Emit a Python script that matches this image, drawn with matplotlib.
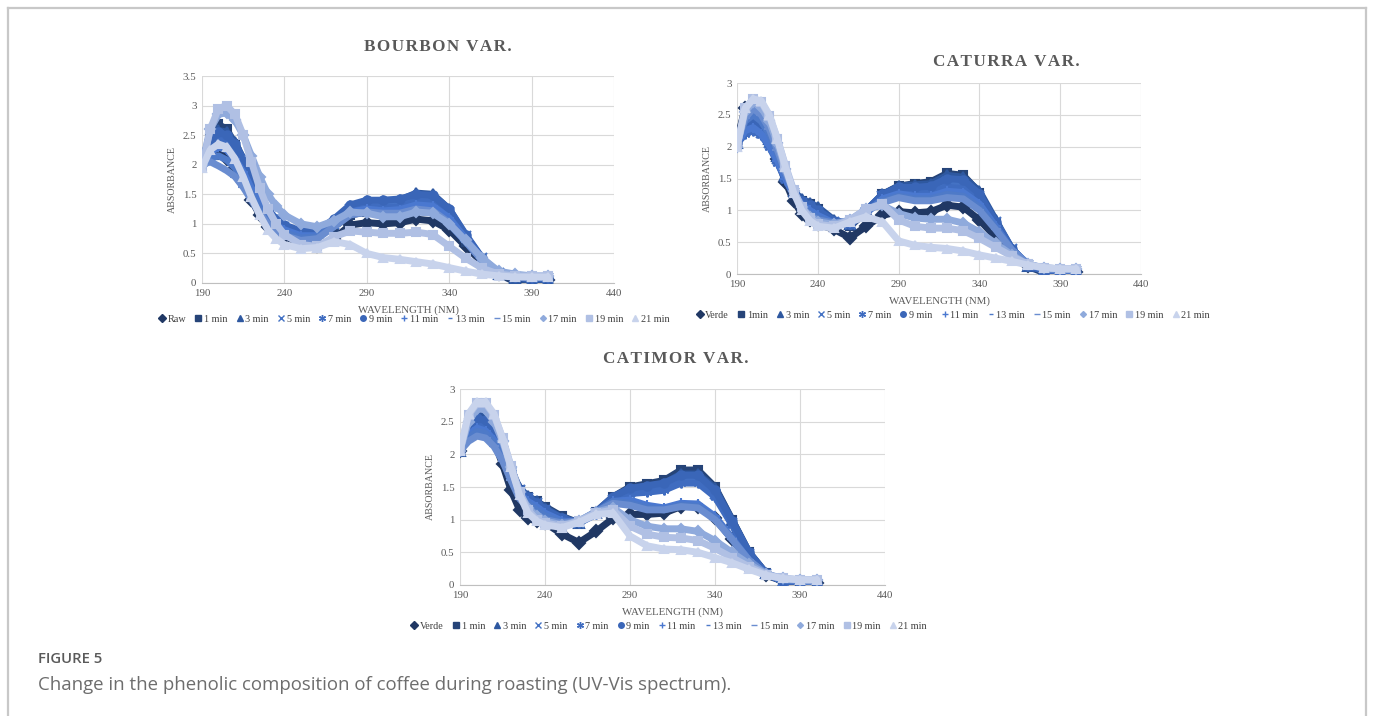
import numpy as np
import matplotlib
matplotlib.use("Agg")
import matplotlib.pyplot as plt
from matplotlib.lines import Line2D

W, H = 1373, 716

# wavelengths (nm)
wl = [190, 195, 200, 205, 210, 215, 220, 225, 230, 235, 240, 250, 260, 270,
      280, 290, 300, 310, 320, 330, 340, 350, 360, 370, 380, 390, 400]

times = ["1 min", "3 min", "5 min", "7 min", "9 min", "11 min", "13 min",
         "15 min", "17 min", "19 min", "21 min"]
labels_bourbon = ["Raw"] + times
labels_caturra = ["Verde", "1min"] + times[1:]
labels_catimor = ["Verde"] + times

bourbon = [
    [2.05, 2.15, 2.2, 2.1, 1.95, 1.7, 1.4, 1.15, 0.95, 0.85, 0.78, 0.68, 0.62, 0.75, 0.98, 1.02, 1.0, 1.02, 1.08, 1.05, 0.9, 0.62, 0.35, 0.16, 0.08, 0.05, 0.05],
    [2.1, 2.45, 2.68, 2.6, 2.35, 2.0, 1.65, 1.35, 1.12, 1.0, 0.92, 0.82, 0.8, 0.95, 1.15, 1.2, 1.18, 1.2, 1.3, 1.28, 1.05, 0.7, 0.38, 0.15, 0.02, 0.0, 0.0],
    [2.1, 2.4, 2.58, 2.55, 2.38, 2.1, 1.78, 1.45, 1.2, 1.05, 0.95, 0.85, 0.85, 1.05, 1.3, 1.38, 1.38, 1.4, 1.52, 1.5, 1.25, 0.8, 0.4, 0.15, 0.08, 0.05, 0.05],
    [2.05, 2.35, 2.5, 2.45, 2.3, 2.05, 1.75, 1.45, 1.2, 1.05, 0.95, 0.85, 0.83, 1.0, 1.25, 1.32, 1.3, 1.32, 1.42, 1.4, 1.2, 0.8, 0.42, 0.17, 0.1, 0.08, 0.08],
    [2.05, 2.3, 2.45, 2.4, 2.25, 2.0, 1.7, 1.42, 1.18, 1.02, 0.92, 0.82, 0.82, 1.0, 1.22, 1.28, 1.27, 1.28, 1.38, 1.36, 1.15, 0.78, 0.4, 0.17, 0.1, 0.08, 0.08],
    [2.1, 2.4, 2.55, 2.5, 2.35, 2.1, 1.8, 1.5, 1.25, 1.08, 0.98, 0.88, 0.88, 1.08, 1.32, 1.4, 1.4, 1.42, 1.5, 1.48, 1.25, 0.82, 0.42, 0.16, 0.1, 0.08, 0.08],
    [2.05, 2.2, 2.3, 2.25, 2.1, 1.88, 1.6, 1.35, 1.12, 0.98, 0.9, 0.8, 0.8, 0.98, 1.2, 1.25, 1.22, 1.24, 1.32, 1.3, 1.1, 0.75, 0.4, 0.17, 0.12, 0.1, 0.1],
    [2.0, 2.1, 2.15, 2.08, 1.95, 1.75, 1.5, 1.25, 1.05, 0.92, 0.85, 0.76, 0.78, 0.96, 1.16, 1.2, 1.16, 1.16, 1.22, 1.2, 1.0, 0.7, 0.38, 0.17, 0.12, 0.1, 0.1],
    [2.0, 2.05, 1.98, 1.9, 1.8, 1.62, 1.4, 1.18, 1.0, 0.88, 0.8, 0.72, 0.75, 0.95, 1.15, 1.2, 1.18, 1.18, 1.25, 1.22, 1.02, 0.7, 0.38, 0.18, 0.12, 0.1, 0.1],
    [2.0, 2.6, 2.85, 2.88, 2.75, 2.5, 2.15, 1.8, 1.5, 1.3, 1.15, 1.0, 0.95, 1.05, 1.2, 1.18, 1.12, 1.12, 1.2, 1.18, 1.0, 0.72, 0.42, 0.2, 0.15, 0.12, 0.12],
    [1.95, 2.6, 2.95, 3.0, 2.85, 2.5, 2.05, 1.6, 1.25, 1.0, 0.82, 0.65, 0.62, 0.78, 0.88, 0.86, 0.84, 0.84, 0.86, 0.82, 0.62, 0.42, 0.25, 0.15, 0.12, 0.12, 0.12],
    [1.95, 2.25, 2.35, 2.3, 2.1, 1.8, 1.45, 1.15, 0.9, 0.75, 0.65, 0.58, 0.6, 0.7, 0.65, 0.5, 0.43, 0.4, 0.36, 0.32, 0.26, 0.2, 0.15, 0.12, 0.1, 0.1, 0.1],
]

caturra = [
    [2.1, 2.6, 2.65, 2.45, 2.15, 1.8, 1.45, 1.15, 0.95, 0.85, 0.78, 0.7, 0.57, 0.75, 0.92, 0.98, 0.96, 0.98, 1.08, 1.05, 0.85, 0.58, 0.3, 0.12, 0.05, 0.03, 0.03],
    [2.05, 2.3, 2.35, 2.25, 2.05, 1.8, 1.5, 1.28, 1.15, 1.1, 1.02, 0.82, 0.75, 0.98, 1.25, 1.38, 1.42, 1.45, 1.58, 1.55, 1.28, 0.8, 0.38, 0.12, 0.02, 0.0, 0.0],
    [2.05, 2.35, 2.45, 2.35, 2.12, 1.85, 1.55, 1.3, 1.18, 1.12, 1.05, 0.85, 0.78, 1.0, 1.25, 1.38, 1.4, 1.42, 1.55, 1.52, 1.3, 0.85, 0.4, 0.13, 0.05, 0.03, 0.03],
    [2.05, 2.25, 2.3, 2.22, 2.05, 1.8, 1.52, 1.28, 1.12, 1.05, 0.98, 0.82, 0.78, 0.98, 1.22, 1.32, 1.32, 1.34, 1.45, 1.42, 1.22, 0.82, 0.4, 0.14, 0.06, 0.04, 0.04],
    [2.05, 2.2, 2.25, 2.18, 2.0, 1.75, 1.48, 1.25, 1.1, 1.02, 0.95, 0.8, 0.78, 0.96, 1.18, 1.28, 1.26, 1.28, 1.36, 1.34, 1.15, 0.78, 0.4, 0.14, 0.07, 0.05, 0.05],
    [2.05, 2.35, 2.4, 2.3, 2.1, 1.82, 1.52, 1.28, 1.14, 1.08, 1.0, 0.84, 0.78, 1.0, 1.25, 1.36, 1.36, 1.38, 1.5, 1.48, 1.26, 0.82, 0.4, 0.13, 0.05, 0.03, 0.03],
    [2.05, 2.25, 2.3, 2.2, 2.02, 1.78, 1.5, 1.25, 1.1, 1.0, 0.92, 0.8, 0.8, 0.96, 1.18, 1.26, 1.22, 1.22, 1.3, 1.28, 1.1, 0.75, 0.38, 0.15, 0.08, 0.06, 0.06],
    [2.05, 2.4, 2.5, 2.4, 2.2, 1.9, 1.58, 1.28, 1.08, 0.95, 0.88, 0.8, 0.82, 0.98, 1.15, 1.22, 1.18, 1.18, 1.25, 1.22, 1.05, 0.72, 0.38, 0.16, 0.08, 0.06, 0.06],
    [2.05, 2.45, 2.6, 2.5, 2.28, 1.95, 1.6, 1.28, 1.05, 0.92, 0.85, 0.8, 0.84, 1.0, 1.12, 1.2, 1.15, 1.15, 1.2, 1.18, 1.0, 0.7, 0.38, 0.16, 0.08, 0.07, 0.07],
    [2.0, 2.55, 2.7, 2.62, 2.4, 2.05, 1.65, 1.3, 1.05, 0.9, 0.82, 0.78, 0.85, 1.02, 1.08, 0.95, 0.88, 0.86, 0.86, 0.8, 0.66, 0.48, 0.3, 0.15, 0.1, 0.08, 0.08],
    [2.0, 2.6, 2.75, 2.7, 2.48, 2.12, 1.7, 1.32, 1.05, 0.88, 0.78, 0.75, 0.85, 1.02, 1.1, 0.85, 0.75, 0.72, 0.72, 0.68, 0.56, 0.42, 0.28, 0.15, 0.1, 0.08, 0.08],
    [2.0, 2.6, 2.75, 2.72, 2.5, 2.12, 1.68, 1.28, 1.0, 0.84, 0.75, 0.72, 0.82, 0.9, 0.82, 0.52, 0.45, 0.42, 0.4, 0.36, 0.3, 0.25, 0.2, 0.14, 0.1, 0.08, 0.08],
]

catimor = [
    [2.05, 2.35, 2.45, 2.4, 2.2, 1.85, 1.45, 1.15, 1.02, 0.98, 0.95, 0.78, 0.65, 0.82, 1.02, 1.08, 1.08, 1.1, 1.2, 1.2, 1.02, 0.7, 0.36, 0.15, 0.06, 0.03, 0.03],
    [2.05, 2.45, 2.65, 2.6, 2.4, 2.05, 1.7, 1.45, 1.35, 1.28, 1.2, 1.05, 0.95, 1.12, 1.35, 1.5, 1.55, 1.6, 1.76, 1.76, 1.5, 1.0, 0.5, 0.18, 0.05, 0.02, 0.0],
    [2.05, 2.4, 2.6, 2.58, 2.42, 2.12, 1.78, 1.48, 1.36, 1.28, 1.18, 1.03, 0.95, 1.1, 1.32, 1.45, 1.5, 1.55, 1.7, 1.7, 1.48, 1.0, 0.5, 0.18, 0.05, 0.02, 0.0],
    [2.05, 2.35, 2.5, 2.48, 2.32, 2.05, 1.72, 1.45, 1.33, 1.25, 1.15, 1.0, 0.95, 1.1, 1.3, 1.42, 1.45, 1.5, 1.62, 1.62, 1.4, 0.95, 0.48, 0.17, 0.06, 0.03, 0.02],
    [2.05, 2.3, 2.45, 2.42, 2.28, 2.02, 1.7, 1.42, 1.3, 1.22, 1.12, 0.98, 0.95, 1.08, 1.28, 1.4, 1.42, 1.45, 1.56, 1.56, 1.35, 0.92, 0.47, 0.17, 0.07, 0.04, 0.03],
    [2.05, 2.4, 2.55, 2.52, 2.36, 2.08, 1.75, 1.46, 1.34, 1.26, 1.16, 1.02, 0.96, 1.12, 1.35, 1.48, 1.52, 1.56, 1.68, 1.68, 1.45, 0.98, 0.5, 0.18, 0.06, 0.03, 0.02],
    [2.05, 2.3, 2.4, 2.36, 2.22, 1.98, 1.68, 1.4, 1.28, 1.2, 1.1, 0.98, 0.96, 1.1, 1.28, 1.3, 1.22, 1.18, 1.25, 1.24, 1.05, 0.72, 0.38, 0.16, 0.08, 0.06, 0.05],
    [2.05, 2.25, 2.35, 2.32, 2.18, 1.95, 1.65, 1.38, 1.25, 1.15, 1.06, 0.96, 0.97, 1.12, 1.28, 1.25, 1.18, 1.15, 1.22, 1.2, 1.02, 0.7, 0.38, 0.16, 0.08, 0.06, 0.05],
    [2.05, 2.2, 2.28, 2.25, 2.12, 1.9, 1.6, 1.32, 1.18, 1.08, 1.0, 0.95, 0.98, 1.12, 1.25, 1.22, 1.15, 1.15, 1.2, 1.18, 1.0, 0.7, 0.38, 0.17, 0.09, 0.07, 0.06],
    [2.05, 2.5, 2.7, 2.68, 2.5, 2.2, 1.8, 1.42, 1.18, 1.05, 0.98, 0.92, 0.98, 1.12, 1.18, 1.0, 0.9, 0.86, 0.86, 0.82, 0.68, 0.5, 0.32, 0.17, 0.1, 0.08, 0.08],
    [2.05, 2.6, 2.78, 2.78, 2.6, 2.25, 1.82, 1.42, 1.15, 1.0, 0.95, 0.9, 0.98, 1.1, 1.15, 0.9, 0.78, 0.73, 0.72, 0.68, 0.56, 0.42, 0.28, 0.16, 0.1, 0.08, 0.08],
    [2.05, 2.62, 2.8, 2.8, 2.62, 2.25, 1.8, 1.38, 1.1, 0.98, 0.92, 0.88, 0.96, 1.08, 1.1, 0.75, 0.6, 0.55, 0.54, 0.5, 0.42, 0.34, 0.24, 0.15, 0.1, 0.08, 0.08],
]

colors = ["#203864", "#264478", "#2E58A0", "#4472C4", "#3F6CC0", "#3A66B8",
          "#4A78D0", "#4E7AC8", "#6A8DD0", "#8FAADC", "#B0C0E4", "#C8D3EC"]
markers = ["D", "s", "^", "x", (6, 2, 0), "o", "+", "_", "_", "D", "s", "^"]
msizes = [4, 4, 5, 5, 5, 4, 5, 3, 5, 3, 4, 4]

serif = "Liberation Serif"
grey = "#595959"


def fx(x):
    return x / W


def fy(y):
    return 1 - y / H


def spaced(s):
    # Excel titles are letter-spaced; hair spaces between letters
    return "\u200a".join(s)


def panel(box, data, labels, ymax, title, title_xy, ylab_x, xlab_y, leg_y, leg_x):
    l, t, r, b = box
    ax = fig.add_axes([fx(l), fy(b), fx(r - l), (b - t) / H])
    for i in range(len(data)):
        ax.plot(wl, data[i], color=colors[i], lw=5, marker=markers[i],
                ms=msizes[i] + 2, mew=1.5, solid_capstyle="round",
                solid_joinstyle="round", zorder=3 + i * 0.01)
    ax.set_xlim(190, 440)
    ax.set_ylim(0, ymax)
    ax.set_xticks(np.arange(190, 441, 50))
    ax.set_yticks(np.arange(0, ymax + 0.01, 0.5))
    ax.set_yticklabels([("%g" % v) for v in np.arange(0, ymax + 0.01, 0.5)])
    ax.grid(True, color="#d9d9d9", lw=0.8)
    ax.set_axisbelow(True)
    for s in ["top", "right", "left"]:
        ax.spines[s].set_visible(False)
    ax.spines["bottom"].set_color("#bfbfbf")
    ax.tick_params(length=0, labelsize=7.8, labelcolor=grey, pad=4)
    for lab in ax.get_xticklabels() + ax.get_yticklabels():
        lab.set_fontfamily(serif)
    fig.text(fx(title_xy[0]), fy(title_xy[1]), spaced(title), ha="center",
             va="center", fontsize=12.3, fontweight="bold",
             family=[serif, "DejaVu Serif"], color=grey)
    fig.text(fx(ylab_x), fy((t + b) / 2), "ABSORBANCE", rotation=90,
             ha="center", va="center", fontsize=7.2, family=serif, color=grey)
    fig.text(fx((l + r) / 2), fy(xlab_y), "WAVELENGTH (NM)", ha="center",
             va="center", fontsize=7.8, family=serif, color=grey)
    handles = [Line2D([], [], ls="none", marker=markers[i], color=colors[i],
                      ms=msizes[i], mew=1) for i in range(len(labels))]
    leg = fig.legend(handles, labels, ncol=len(labels), loc="center",
                     bbox_to_anchor=(fx(leg_x), fy(leg_y)), frameon=False,
                     prop={"family": serif, "size": 7.3}, handlelength=0.7,
                     handletextpad=0.2, columnspacing=0.85, borderpad=0)
    for tx in leg.get_texts():
        tx.set_color("#404040")
    return ax


fig = plt.figure(figsize=(W / 100, H / 100), dpi=100)

panel((202, 76, 614, 283), bourbon, labels_bourbon, 3.5, "BOURBON VAR.",
      (438, 47), 172, 310, 319, 414)
panel((737, 83, 1141, 274), caturra, labels_caturra, 3.0, "CATURRA VAR.",
      (1006, 62), 707, 301, 315, 953)
panel((460, 389, 885, 585), catimor, labels_catimor, 3.0, "CATIMOR VAR.",
      (676, 359), 430, 612, 626, 669)

# outer frame (open at the bottom)
fc = "#c8c8c8"
fig.add_artist(Line2D([fx(7.5), fx(7.5)], [0, fy(7.5)], color=fc, lw=1.6))
fig.add_artist(Line2D([fx(7.5), fx(1366)], [fy(7.5), fy(7.5)], color=fc, lw=1.6))
fig.add_artist(Line2D([fx(1366), fx(1366)], [0, fy(7.5)], color=fc, lw=1.6))

fig.text(fx(38), fy(659), "FIGURE 5", ha="left", va="center", fontsize=10.7,
         family="Open Sans", fontweight="semibold", color="#5a5a5a")
fig.text(fx(38), fy(685), "Change in the phenolic composition of coffee during roasting (UV-Vis spectrum).",
         ha="left", va="center", fontsize=13.4, family="Open Sans", color="#6d6d6d")

fig.savefig("out.png", dpi=100)
